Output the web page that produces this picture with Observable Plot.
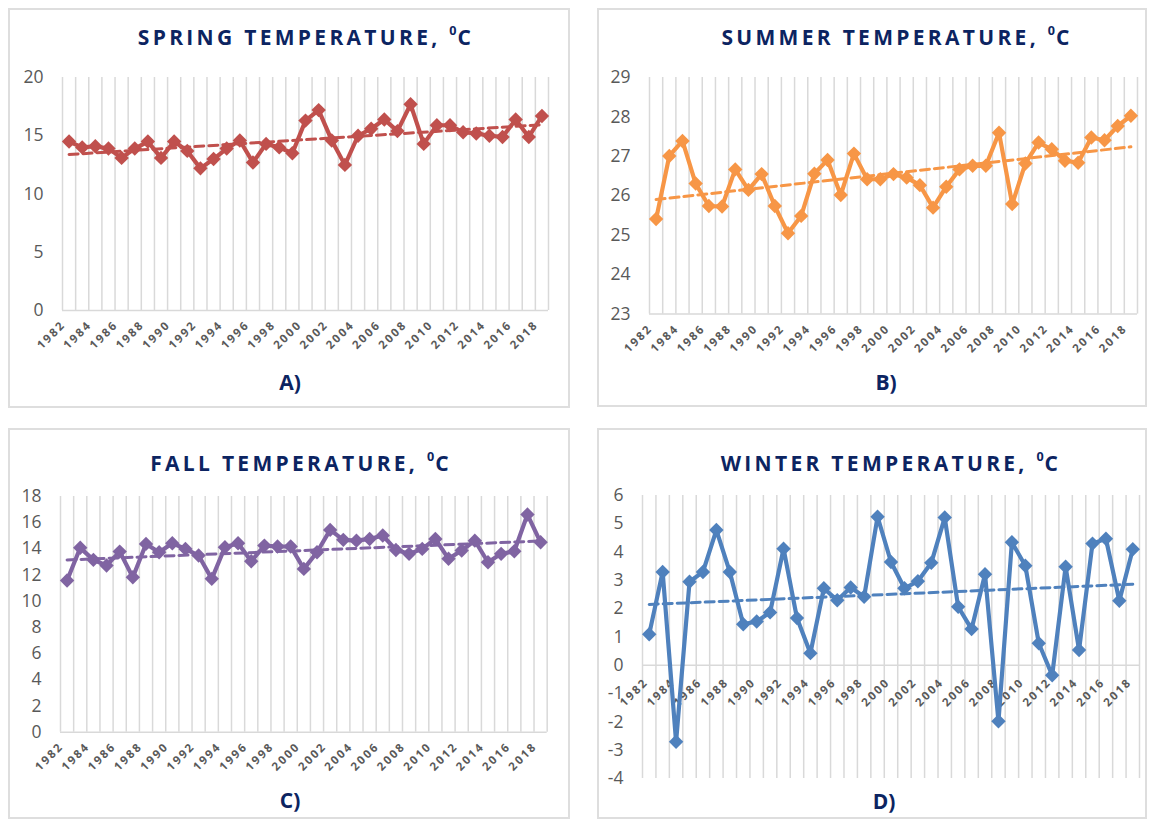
<!DOCTYPE html>
<html><head><meta charset="utf-8">
<script src="https://cdn.jsdelivr.net/npm/d3@7"></script>
<script src="https://cdn.jsdelivr.net/npm/@observablehq/plot@0.6"></script>
<style>
body{margin:0;background:#fff;width:1149px;height:821px;overflow:hidden;font-family:"Open Sans",sans-serif;}
#root{position:relative;width:1149px;height:821px;}
.box{position:absolute;border:2px solid #dedede;box-sizing:border-box;}
.title{position:absolute;transform:translate(-50%,-50%);white-space:nowrap;font-weight:700;font-size:21px;letter-spacing:3.3px;color:#0c2461;}
.title sup{font-size:0.6em;vertical-align:0.8em;letter-spacing:1px;line-height:0}
.lab{position:absolute;transform:translate(-50%,-50%);font-weight:700;font-size:21px;color:#0c2461;}
.chart{position:absolute;}
.chart svg{overflow:visible;}
</style></head><body><div id="root"></div>
<script>
// ---- data ----
const years = [1982,1983,1984,1985,1986,1987,1988,1989,1990,1991,1992,1993,1994,1995,1996,1997,1998,1999,2000,2001,2002,2003,2004,2005,2006,2007,2008,2009,2010,2011,2012,2013,2014,2015,2016,2017,2018];
const tickYears = [1982,1984,1986,1988,1990,1992,1994,1996,1998,2000,2002,2004,2006,2008,2010,2012,2014,2016,2018];
const spring = [14.5,14.0,14.1,13.9,13.1,13.9,14.5,13.1,14.5,13.7,12.2,13.0,13.9,14.6,12.7,14.3,14.0,13.5,16.3,17.2,14.6,12.5,15.0,15.6,16.4,15.4,17.7,14.3,15.9,15.9,15.3,15.2,15.0,14.9,16.4,14.9,16.7];
const summer = [25.41,27.01,27.39,26.31,25.74,25.73,26.67,26.15,26.55,25.74,25.05,25.49,26.56,26.91,26.02,27.07,26.42,26.42,26.55,26.46,26.27,25.70,26.23,26.67,26.76,26.76,27.60,25.79,26.82,27.35,27.18,26.89,26.84,27.48,27.41,27.77,28.03];
const fall = [11.58,14.08,13.16,12.73,13.79,11.83,14.38,13.74,14.43,14.0,13.49,11.71,14.12,14.43,13.05,14.25,14.18,14.18,12.47,13.74,15.45,14.69,14.63,14.76,15.02,13.92,13.62,14.0,14.76,13.24,13.87,14.63,12.98,13.62,13.82,16.62,14.5];
const winter = [1.1,3.3,-2.7,2.95,3.3,4.78,3.3,1.45,1.55,1.87,4.12,1.67,0.43,2.72,2.3,2.75,2.42,5.25,3.65,2.72,2.97,3.62,5.22,2.07,1.28,3.22,-1.98,4.35,3.52,0.78,-0.35,3.48,0.54,4.3,4.47,2.28,4.1];
const springTicks = [0,5,10,15,20];
const summerTicks = [23,24,25,26,27,28,29];
const fallTicks = [0,2,4,6,8,10,12,14,16,18];
const winterTicks = [-4,-3,-2,-1,0,1,2,3,4,5,6];
const winterAxisAt = 0;

const panels = [
  {title:"SPRING TEMPERATURE, ", label:"A)", values:spring, ticks:springTicks, color:"#c0504d",
   box:[8,8,562,400], plot:[62,548,77,310], titlePos:[306,37], labPos:[290,382]},
  {title:"SUMMER TEMPERATURE, ", label:"B)", values:summer, ticks:summerTicks, color:"#f79646",
   box:[597,8,550,399], plot:[649,1137,76.7,313.3], titlePos:[897,37], labPos:[886,382]},
  {title:"FALL TEMPERATURE, ", label:"C)", values:fall, ticks:fallTicks, color:"#8064a2",
   box:[8,428,562,391], plot:[60,546.7,496,731.7], titlePos:[301,463], labPos:[290,800]},
  {title:"WINTER TEMPERATURE, ", label:"D)", values:winter, ticks:winterTicks, color:"#4f81bd",
   box:[597,428,550,391], plot:[642.3,1139.3,495,778], titlePos:[891,463], labPos:[884,801], crossAt:winterAxisAt}
];

const root = document.getElementById("root");
const grey = "#595959";
const gridC = "#d9d9d9";
const edges = years.map(y => y - 0.5).concat([years[years.length-1] + 0.5]);

for (const p of panels) {
  const box = document.createElement("div");
  box.className = "box";
  Object.assign(box.style, {left:p.box[0]+"px", top:p.box[1]+"px", width:p.box[2]+"px", height:p.box[3]+"px"});
  root.appendChild(box);

  const data = years.map((y,i) => ({year:y, v:p.values[i]}));
  const [px0,px1,py0,py1] = p.plot;
  const mL=60, mR=8, mT=20, mB=80;
  const W = (px1-px0)+mL+mR, H = (py1-py0)+mT+mB;
  const yDom = [p.ticks[0], p.ticks[p.ticks.length-1]];
  const hasCross = p.crossAt !== undefined;

  const labelOpts = {x:d=>d, text:d=>String(d), rotate:-45, textAnchor:"end", dx:-3, dy:15,
    fontSize:11.5, fontWeight:"bold", fill:grey};
  if (hasCross) labelOpts.y = () => p.crossAt; else labelOpts.frameAnchor = "bottom";

  const svg = Plot.plot({
    width: W, height: H, marginLeft: mL, marginRight: mR, marginTop: mT, marginBottom: mB,
    style: {fontFamily:"Open Sans", background:"transparent", overflow:"visible"},
    x: {domain:[edges[0], edges[edges.length-1]], axis:null},
    y: {domain:yDom, ticks:p.ticks, tickSize:0, tickPadding:19, tickFormat:d=>String(d), label:null, fontSize:17},
    marks: [
      Plot.ruleX(edges, {x:d=>d, stroke:gridC, strokeWidth:1.5}),
      Plot.ruleY([hasCross ? p.crossAt : yDom[0]], {stroke:gridC, strokeWidth:1.5}),
      Plot.axisY({ticks:p.ticks, tickSize:0, tickPadding:19, tickFormat:d=>String(d), label:null, fontSize:17.5, color:grey}),
      Plot.text(tickYears, labelOpts),
      Plot.line(data, {x:"year", y:"v", stroke:p.color, strokeWidth:4.2, strokeLinejoin:"round"}),
      Plot.dot(data, {x:"year", y:"v", symbol:"diamond2", r:6.5, fill:p.color, stroke:"none"}),
      Plot.linearRegressionY(data, {x:"year", y:"v", stroke:p.color, strokeWidth:3, strokeDasharray:"9,5", ci:0})
    ]
  });
  svg.querySelectorAll("text").forEach(t => {
    if (t.getAttribute("transform") && t.getAttribute("transform").includes("rotate")) t.style.letterSpacing = "2px";
  });
  const holder = document.createElement("div");
  holder.className = "chart";
  Object.assign(holder.style, {left:(px0-mL)+"px", top:(py0-mT)+"px"});
  holder.appendChild(svg);
  root.appendChild(holder);

  const t = document.createElement("div");
  t.className = "title";
  t.innerHTML = p.title + "<sup>0</sup>C";
  Object.assign(t.style, {left:p.titlePos[0]+"px", top:p.titlePos[1]+"px"});
  root.appendChild(t);

  const l = document.createElement("div");
  l.className = "lab";
  l.textContent = p.label;
  Object.assign(l.style, {left:p.labPos[0]+"px", top:p.labPos[1]+"px"});
  root.appendChild(l);
}
</script>
</body></html>
